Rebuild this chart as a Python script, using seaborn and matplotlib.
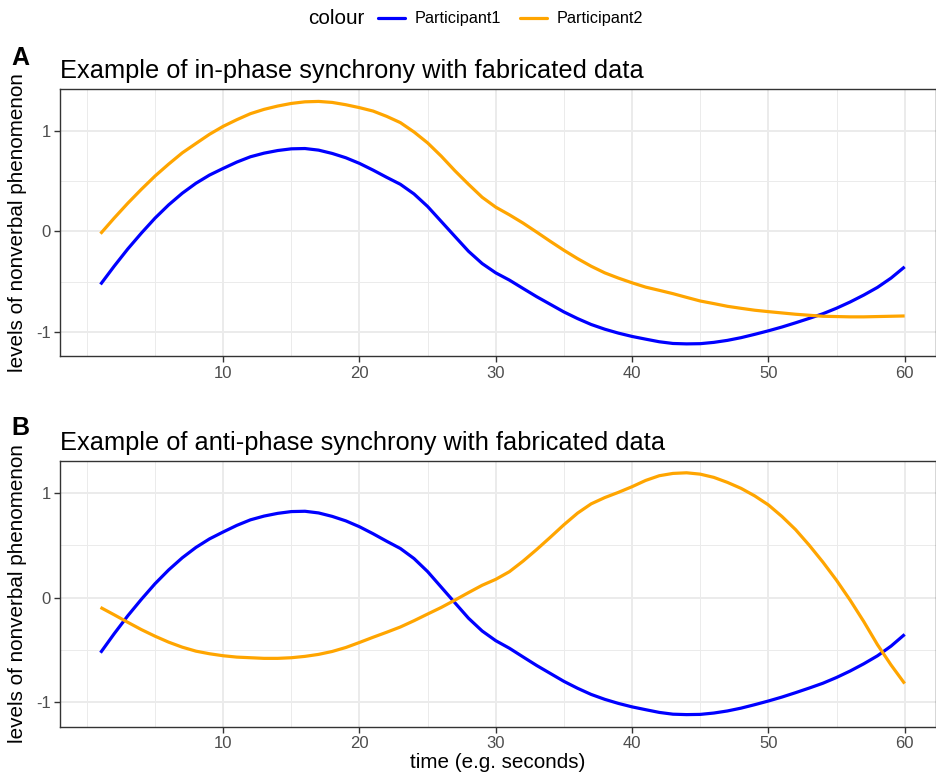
"""
In-phase vs anti-phase synchrony example (fabricated data), two stacked panels
"""

import pandas as pd
import numpy as np
import matplotlib
matplotlib.use('Agg')
import matplotlib.pyplot as plt
import seaborn as sns
from matplotlib.lines import Line2D
from matplotlib.ticker import FixedLocator

# time points (seconds)
time = list(range(1, 61))

# participant 1 is the same in both panels
participant1 = [-0.528, -0.347, -0.175, -0.017, 0.132, 0.264, 0.38, 0.479, 0.561, 0.627,
                0.69, 0.743, 0.779, 0.805, 0.822, 0.825, 0.809, 0.776, 0.733, 0.677,
                0.61, 0.538, 0.469, 0.373, 0.248, 0.099, -0.05, -0.198, -0.32, -0.413,
                -0.485, -0.568, -0.65, -0.726, -0.802, -0.868, -0.927, -0.974, -1.013, -1.046,
                -1.073, -1.099, -1.116, -1.12, -1.118, -1.105, -1.085, -1.058, -1.025, -0.99,
                -0.952, -0.91, -0.866, -0.82, -0.765, -0.703, -0.634, -0.558, -0.465, -0.353]

# participant 2, in-phase version
participant2_in = [-0.023, 0.132, 0.28, 0.419, 0.551, 0.67, 0.782, 0.875, 0.967, 1.046,
                   1.112, 1.172, 1.215, 1.248, 1.274, 1.29, 1.294, 1.284, 1.261, 1.232,
                   1.198, 1.145, 1.083, 0.99, 0.881, 0.749, 0.604, 0.469, 0.34, 0.241,
                   0.165, 0.083, -0.007, -0.099, -0.188, -0.271, -0.347, -0.413, -0.465, -0.512,
                   -0.555, -0.587, -0.62, -0.657, -0.693, -0.719, -0.746, -0.766, -0.785, -0.799,
                   -0.812, -0.825, -0.835, -0.845, -0.848, -0.851, -0.851, -0.848, -0.845, -0.842]

# participant 2, anti-phase version
participant2_anti = [-0.095, -0.165, -0.237, -0.307, -0.37, -0.427, -0.475, -0.513, -0.538, -0.557,
                     -0.57, -0.576, -0.582, -0.582, -0.576, -0.563, -0.544, -0.516, -0.478, -0.43,
                     -0.38, -0.332, -0.282, -0.222, -0.158, -0.095, -0.025, 0.047, 0.117, 0.174,
                     0.247, 0.348, 0.459, 0.576, 0.696, 0.807, 0.896, 0.956, 1.006, 1.06,
                     1.12, 1.165, 1.187, 1.193, 1.18, 1.149, 1.101, 1.044, 0.972, 0.886,
                     0.775, 0.649, 0.5, 0.339, 0.165, -0.025, -0.23, -0.45, -0.645, -0.823]

series_names = ['Participant1', 'Participant2']
palette = {'Participant1': '#0000FF', 'Participant2': '#FFA500'}
titles = ['Example of in-phase synchrony with fabricated data',
          'Example of anti-phase synchrony with fabricated data']
panel_tags = ['A', 'B']


def make_long(p1, p2):
    df = pd.DataFrame({'time': time, 'Participant1': p1, 'Participant2': p2})
    return df.melt(id_vars='time', var_name='colour', value_name='level')


sns.set_theme(style='white')
plt.rcParams['font.family'] = ['Liberation Sans', 'DejaVu Sans']
plt.rcParams['axes.unicode_minus'] = False
plt.rcParams['text.color'] = 'black'

fig = plt.figure(figsize=(9.36, 7.76), dpi=100)
W, H = 936, 776
# axes boxes in pixels: left, top, right, bottom
boxes = [(60.3, 89.3, 936, 356.0), (60.3, 460.7, 936, 726.7)]
datasets = [make_long(participant1, participant2_in),
            make_long(participant1, participant2_anti)]

for i, (box, df) in enumerate(zip(boxes, datasets)):
    l, t, r, b = box
    ax = fig.add_axes([l / W, 1 - b / H, (r - l) / W, (b - t) / H])
    sns.lineplot(data=df, x='time', y='level', hue='colour', palette=palette,
                 linewidth=2.3, legend=False, ax=ax)
    for ln in ax.lines:
        ln.set_solid_joinstyle('round')
        ln.set_solid_capstyle('butt')

    ymin = df['level'].min()
    ymax = df['level'].max()
    pad = (ymax - ymin) * 0.05
    ax.set_ylim(ymin - pad, ymax + pad)
    ax.set_xlim(-1.95, 62.3)

    ax.xaxis.set_major_locator(FixedLocator([10, 20, 30, 40, 50, 60]))
    ax.xaxis.set_minor_locator(FixedLocator([0, 5, 15, 25, 35, 45, 55]))
    ax.yaxis.set_major_locator(FixedLocator([-1, 0, 1]))
    ax.yaxis.set_minor_locator(FixedLocator([-0.5, 0.5]))
    ax.grid(which='major', color='#EBEBEB', linewidth=1.4)
    ax.grid(which='minor', color='#EBEBEB', linewidth=0.7)
    ax.set_axisbelow(True)
    ax.tick_params(which='major', direction='out', length=4, width=1,
                   color='#333333', labelcolor='#4D4D4D', labelsize=12, pad=3,
                   bottom=True, left=True)
    ax.tick_params(which='minor', length=0)
    for sp in ax.spines.values():
        sp.set_color('#333333')
        sp.set_linewidth(1.0)

    ax.set_title(titles[i], loc='left', fontsize=18.3, color='black', pad=8)
    ax.set_ylabel('levels of nonverbal phenomenon', fontsize=14.9, color='black', va='center')
    ax.yaxis.set_label_coords((18 - l) / (r - l), 0.5)
    if i == 1:
        ax.set_xlabel('time (e.g. seconds)', fontsize=14.9, color='black', va='center')
        ax.xaxis.set_label_coords(0.5, -(763 - b) / (b - t))
    else:
        ax.set_xlabel('')

fig.text(11 / W, 1 - 58 / H, panel_tags[0], fontsize=18, fontweight='bold',
         color='black', va='center', ha='left')
fig.text(11 / W, 1 - 428 / H, panel_tags[1], fontsize=18, fontweight='bold',
         color='black', va='center', ha='left')

# legend on top, title to the left like ggplot
handles = [Line2D([0], [0], color=palette[n], linewidth=2.3) for n in series_names]
fig.text(308 / W, 1 - 19 / H, 'colour', fontsize=14.9, color='black', va='center', ha='left')
leg = fig.legend(handles, series_names, loc='center left', bbox_to_anchor=(378 / W, 1 - 19 / H),
                 ncol=2, frameon=False, fontsize=11.7, handlelength=1.65, handletextpad=0.6,
                 columnspacing=1.2, borderpad=0, borderaxespad=0)
for txt in leg.get_texts():
    txt.set_color('black')

plt.savefig('out.png', dpi=100)
